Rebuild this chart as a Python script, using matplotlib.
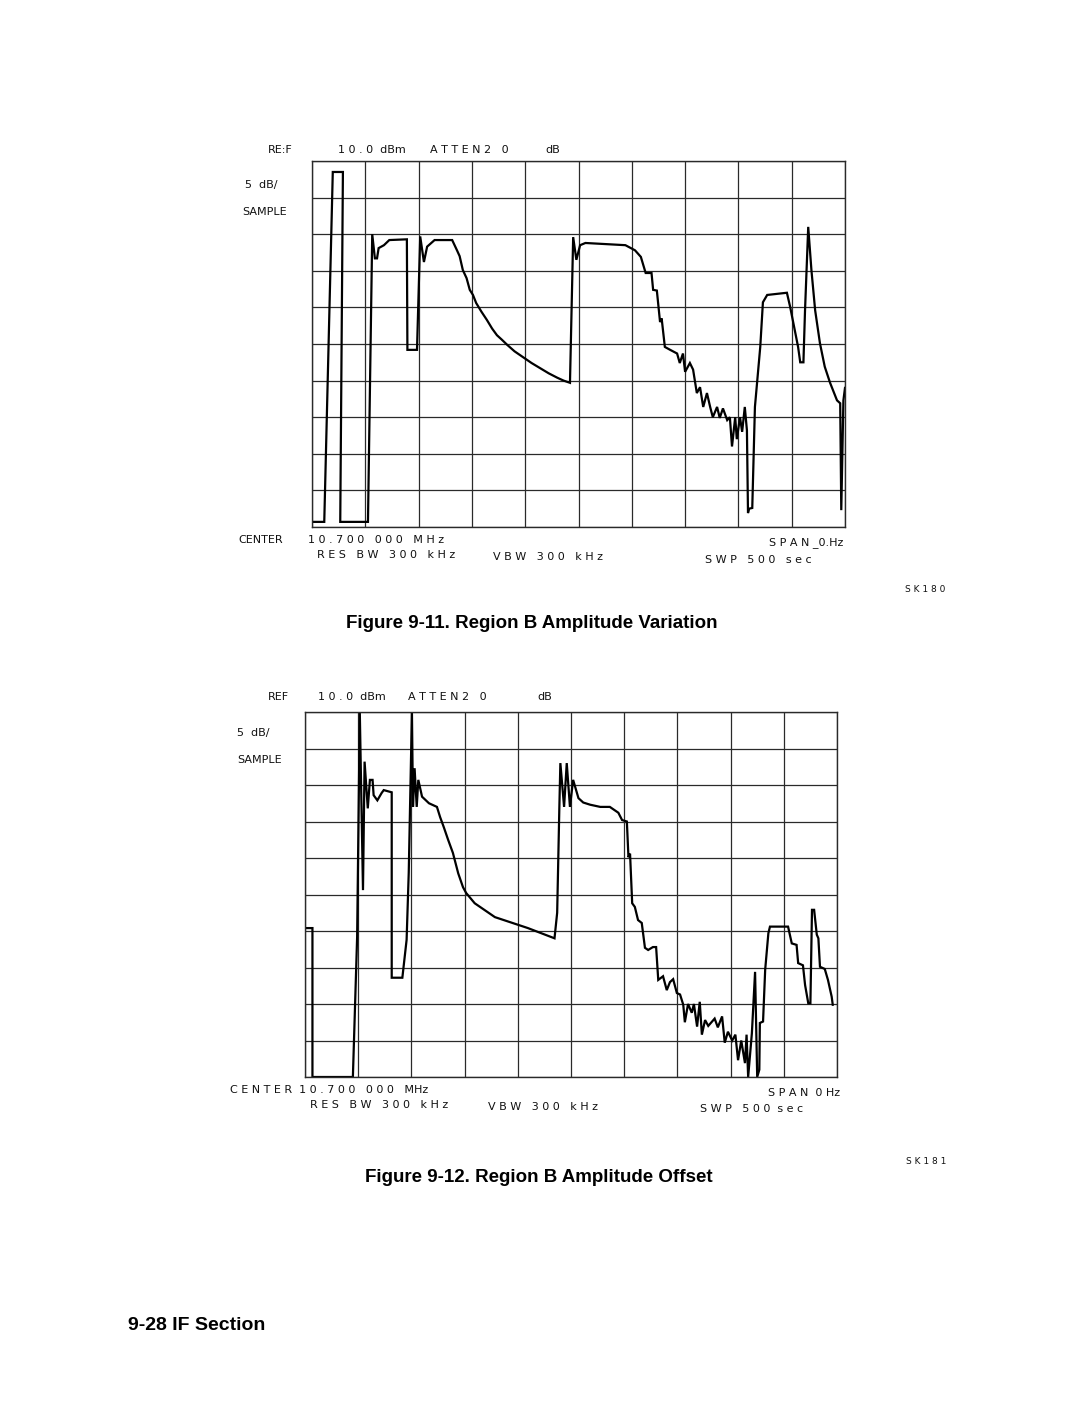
import matplotlib.pyplot as plt

W, H = 1080, 1408

# trace of figure 9-11 (x in screen divisions, y in dBm; ref 10 dBm, 5 dB/div)
x_var = [0.0, 0.23, 0.39, 0.58, 0.53, 1.05, 1.13, 1.18, 1.22, 1.25, 1.35, 1.45,
         1.78, 1.79, 1.97, 2.03, 2.10, 2.16, 2.30, 2.63, 2.72, 2.77, 2.83, 2.90,
         2.96, 3.02, 3.08, 3.18, 3.28, 3.38, 3.47, 3.56, 3.66, 3.80, 3.96, 4.12,
         4.28, 4.44, 4.60, 4.72, 4.84, 4.90, 4.96, 5.03, 5.13, 5.88, 6.06, 6.17,
         6.26, 6.37, 6.40, 6.47, 6.53, 6.56, 6.62, 6.72, 6.85, 6.90, 6.96, 7.00,
         7.09, 7.15, 7.22, 7.28, 7.34, 7.41, 7.47, 7.52, 7.60, 7.65, 7.71, 7.79,
         7.84, 7.88, 7.94, 7.97, 8.03, 8.07, 8.12, 8.16, 8.18, 8.20, 8.26, 8.31,
         8.41, 8.46, 8.54, 8.91, 8.97, 9.03, 9.12, 9.16, 9.22, 9.25, 9.31, 9.37,
         9.44, 9.53, 9.62, 9.72, 9.85, 9.91, 9.93, 9.97, 10.0]
y_var = [-39.3, -39.3, 8.5, 8.5, -39.3, -39.3, 0.0, -3.3, -3.3, -1.9, -1.5, -0.8,
         -0.7, -15.8, -15.8, -0.3, -3.8, -1.7, -0.8, -0.8, -2.2, -3.0, -4.9, -6.0,
         -7.6, -8.3, -9.4, -10.6, -11.7, -12.9, -13.8, -14.4, -15.1, -16.0, -16.8, -17.6,
         -18.3, -19.0, -19.6, -20.0, -20.3, -0.4, -3.5, -1.5, -1.2, -1.5, -2.2, -3.1,
         -5.3, -5.3, -7.6, -7.7, -12.0, -11.5, -15.4, -15.8, -16.3, -17.6, -16.3, -18.8,
         -17.6, -18.5, -21.7, -20.9, -23.6, -21.7, -23.6, -25.0, -23.6, -25.1, -23.8, -25.4,
         -25.0, -29.0, -25.0, -28.0, -25.0, -27.0, -23.6, -26.8, -38.1, -37.5, -37.4, -23.6,
         -15.4, -9.3, -8.3, -8.0, -9.9, -12.1, -15.4, -17.5, -17.5, -10.4, 1.0, -4.9,
         -10.4, -14.9, -18.1, -20.3, -22.7, -23.1, -37.7, -22.7, -21.0]

# trace of figure 9-12
x_off = [0.0, 0.14, 0.14, 0.90, 0.98, 1.03, 1.09, 1.12, 1.18, 1.22, 1.27, 1.29,
         1.36, 1.44, 1.48, 1.63, 1.63, 1.83, 1.91, 1.95, 2.01, 2.03, 2.06, 2.10,
         2.13, 2.20, 2.33, 2.48, 2.54, 2.61, 2.69, 2.78, 2.88, 2.97, 3.03, 3.19,
         3.57, 4.19, 4.69, 4.74, 4.78, 4.80, 4.87, 4.92, 4.98, 5.04, 5.14, 5.23,
         5.36, 5.55, 5.73, 5.89, 5.96, 6.05, 6.08, 6.11, 6.15, 6.20, 6.26, 6.33,
         6.39, 6.45, 6.54, 6.60, 6.64, 6.73, 6.80, 6.86, 6.92, 6.99, 7.05, 7.11,
         7.14, 7.20, 7.27, 7.31, 7.37, 7.42, 7.46, 7.52, 7.58, 7.64, 7.70, 7.76,
         7.84, 7.89, 7.95, 8.03, 8.09, 8.14, 8.20, 8.27, 8.30, 8.33, 8.40, 8.46,
         8.50, 8.54, 8.55, 8.61, 8.65, 8.71, 8.74, 9.08, 9.15, 9.24, 9.27, 9.36,
         9.40, 9.46, 9.50, 9.53, 9.57, 9.62, 9.65, 9.68, 9.77, 9.83, 9.90, 9.92]
y_off = [-19.6, -19.6, -40.0, -40.0, -20.8, 10.0, -14.4, 3.2, -3.2, 0.7, 0.7, -1.4,
         -2.1, -1.1, -0.7, -1.0, -26.4, -26.4, -21.2, -12.0, 10.0, -3.0, 2.3, -3.0,
         0.7, -1.6, -2.5, -3.0, -4.4, -5.8, -7.5, -9.3, -12.1, -14.0, -14.8, -16.2,
         -18.1, -19.6, -21.0, -17.5, -3.4, 3.0, -3.0, 3.0, -3.0, 0.7, -1.8, -2.4,
         -2.7, -3.0, -3.0, -3.8, -4.8, -5.0, -9.9, -9.4, -16.2, -16.7, -18.5, -18.9,
         -22.3, -22.6, -22.2, -22.2, -26.7, -26.2, -28.1, -27.0, -26.6, -28.5, -28.7, -30.1,
         -32.5, -30.0, -31.2, -30.0, -33.1, -29.7, -34.2, -32.2, -33.0, -32.5, -32.0, -33.2,
         -31.7, -35.3, -33.8, -35.0, -34.2, -37.7, -35.0, -38.1, -34.2, -40.0, -34.0, -25.6,
         -40.0, -39.0, -32.6, -32.4, -25.3, -20.3, -19.4, -19.4, -21.7, -21.9, -24.4, -24.7,
         -27.4, -29.9, -29.9, -17.1, -17.1, -20.5, -21.0, -24.9, -25.2, -26.7, -29.0, -30.1]

fig = plt.figure(figsize=(W / 100, H / 100), dpi=100)
fig.patch.set_facecolor('white')


def fpos(x, y):
    return x / W, 1 - y / H


def screen(rect, xs, ys):
    ax = fig.add_axes(rect)
    ax.plot(xs, ys, color='black', lw=1.6, solid_joinstyle='miter')
    ax.set_xlim(0, 10)
    ax.set_ylim(-40, 10)
    ax.set_xticks(range(11))
    ax.set_yticks(range(-40, 11, 5))
    ax.grid(True, color='#2a2a2a', lw=0.9)
    ax.tick_params(length=0, labelbottom=False, labelleft=False)
    for s in ax.spines.values():
        s.set_color('#2a2a2a')
        s.set_linewidth(1.0)
    return ax


screen([312 / W, 1 - 527 / H, 533 / W, 366 / H], x_var, y_var)
screen([305 / W, 1 - 1077 / H, 532 / W, 365 / H], x_off, y_off)

lab = dict(fontsize=8, color='#111111', family='DejaVu Sans', va='center')


def label(x, y, s, ha='left', **kw):
    d = dict(lab)
    d.update(kw)
    fig.text(*fpos(x, y), s, ha=ha, **d)


# figure 9-11 annotations
label(268, 150, 'RE:F')
label(338, 150, '1 0 . 0  dBm')
label(430, 150, 'A T T E N 2   0')
label(545, 150, 'dB')
label(245, 185, '5  dB/')
label(242, 212, 'SAMPLE')
label(238, 540, 'CENTER')
label(308, 540, '1 0 . 7 0 0   0 0 0   M H z')
label(843, 543, 'S P A N _0.Hz', ha='right')
label(317, 555, 'R E S   B W   3 0 0   k H z')
label(493, 557, 'V B W   3 0 0   k H z')
label(705, 560, 'S W P   5 0 0   s e c')
label(905, 589, 'S K 1 8 0', fontsize=6.5)

# figure 9-12 annotations
label(268, 697, 'REF')
label(318, 697, '1 0 . 0  dBm')
label(408, 697, 'A T T E N 2   0')
label(537, 697, 'dB')
label(237, 733, '5  dB/')
label(237, 760, 'SAMPLE')
label(230, 1090, 'C E N T E R  1 0 . 7 0 0   0 0 0   MHz')
label(840, 1093, 'S P A N  0 Hz', ha='right')
label(310, 1105, 'R E S   B W   3 0 0   k H z')
label(488, 1107, 'V B W   3 0 0   k H z')
label(700, 1109, 'S W P   5 0 0  s e c')
label(906, 1162, 'S K 1 8 1', fontsize=6.5)

cap = dict(fontsize=13.5, fontweight='bold', va='center', ha='center',
           family=['Liberation Sans Narrow', 'Liberation Sans', 'DejaVu Sans'])
fig.text(*fpos(532, 624), 'Figure 9-11. Region B Amplitude Variation', **cap)
fig.text(*fpos(539, 1178), 'Figure 9-12. Region B Amplitude Offset', **cap)
fig.text(*fpos(128, 1326), '9-28 IF Section', fontsize=14, fontweight='bold',
         va='center', ha='left', family=['Liberation Sans', 'DejaVu Sans'])

fig.savefig('out.png', dpi=100, facecolor='white')
